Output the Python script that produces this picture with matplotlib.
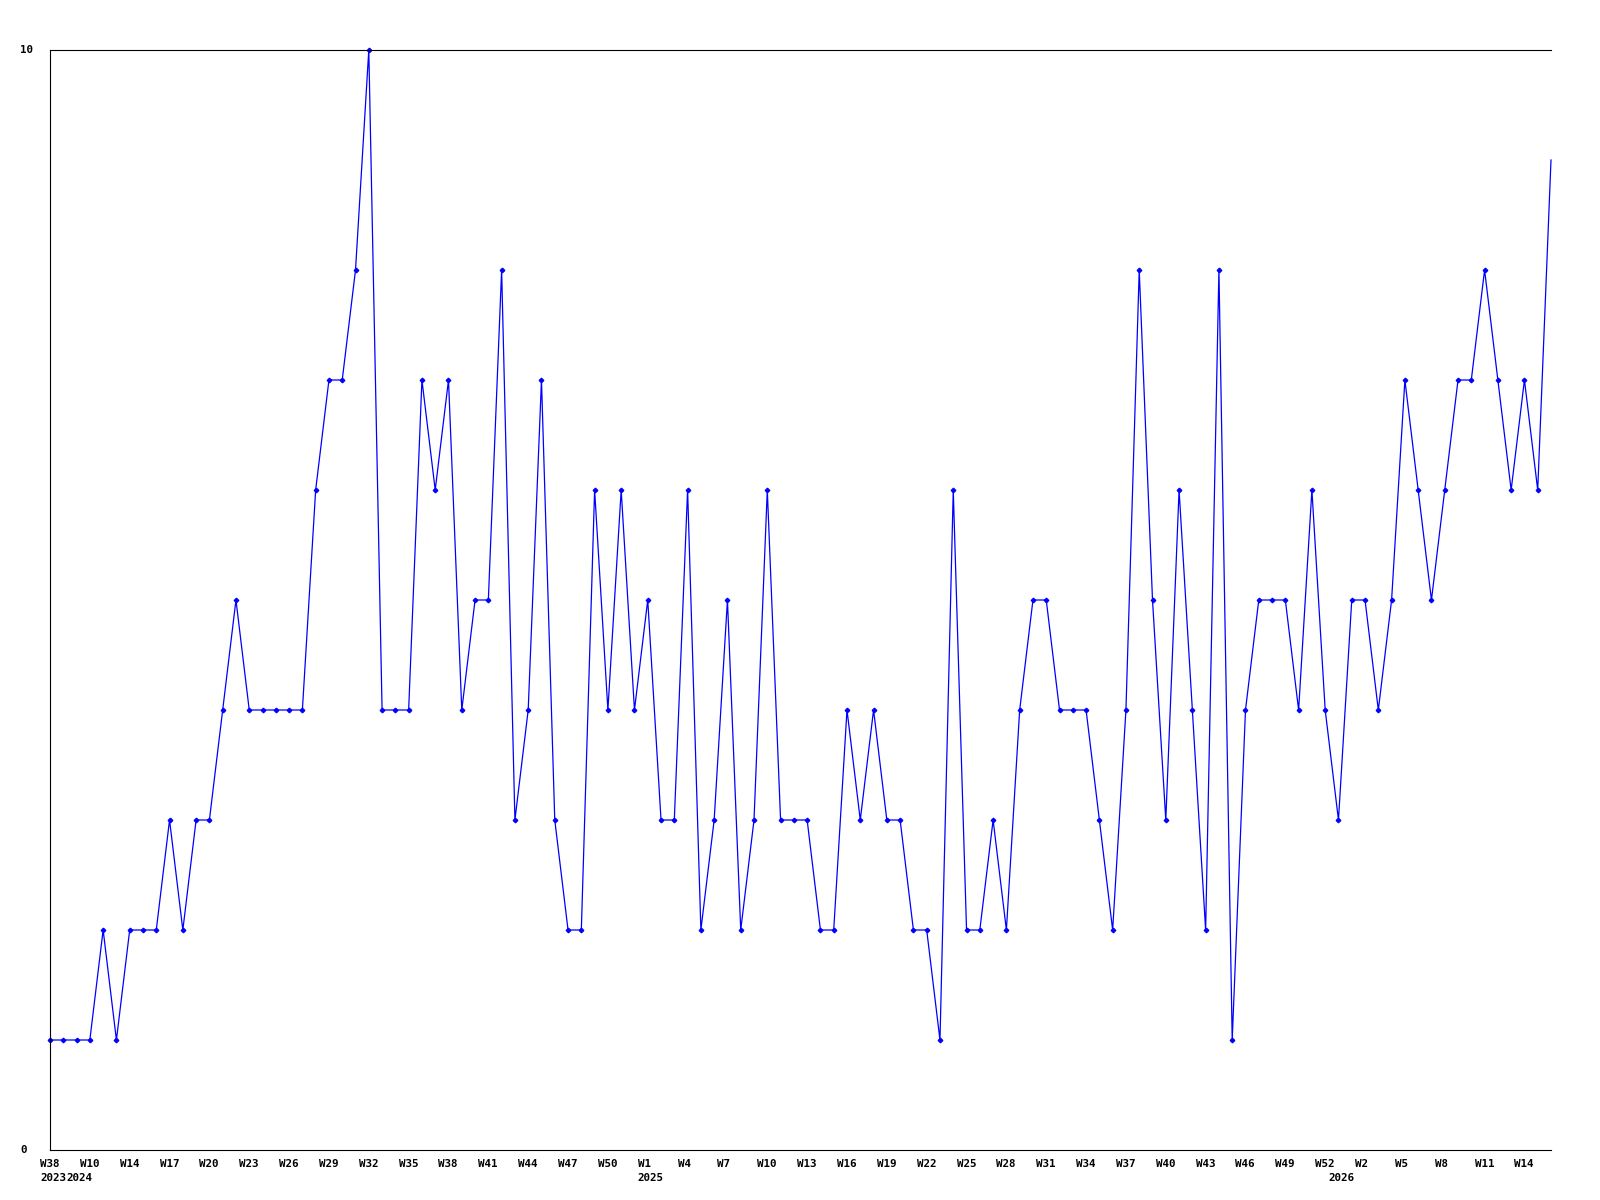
# Weekly counts line chart (W38 2023 .. W16 2026)
import matplotlib
matplotlib.use("Agg")
import matplotlib.pyplot as plt
from matplotlib.transforms import ScaledTranslation

# --- data ---
values = [1, 1, 1, 1, 2, 1, 2, 2, 2, 3,
          2, 3, 3, 4, 5, 4, 4, 4, 4, 4,
          6, 7, 7, 8, 10, 4, 4, 4, 7, 6,
          7, 4, 5, 5, 8, 3, 4, 7, 3, 2,
          2, 6, 4, 6, 4, 5, 3, 3, 6, 2,
          3, 5, 2, 3, 6, 3, 3, 3, 2, 2,
          4, 3, 4, 3, 3, 2, 2, 1, 6, 2,
          2, 3, 2, 4, 5, 5, 4, 4, 4, 3,
          2, 4, 8, 5, 3, 6, 4, 2, 8, 1,
          4, 5, 5, 5, 4, 6, 4, 3, 5, 5,
          4, 5, 7, 6, 5, 6, 7, 7, 8, 7,
          6, 7, 6, 9]

# week labels, one every third point
tick_labels = ["W38", "W10", "W14", "W17", "W20", "W23", "W26", "W29", "W32",
               "W35", "W38", "W41", "W44", "W47", "W50", "W1", "W4", "W7",
               "W10", "W13", "W16", "W19", "W22", "W25", "W28", "W31", "W34",
               "W37", "W40", "W43", "W46", "W49", "W52", "W2", "W5", "W8",
               "W11", "W14"]
tick_step = 3

# year labels sit under the first point of each year
year_labels = ["2023", "2024", "2025", "2026"]
year_index = [0, 2, 45, 97]

y_labels = ["0", "10"]
y_ticks = [0, 10]

# --- figure ---
plt.rcParams['font.family'] = ['DejaVu Sans Mono']
plt.rcParams['font.weight'] = 'bold'
plt.rcParams['font.size'] = 7.8

fig = plt.figure(figsize=(16, 12), dpi=100)
ax = fig.add_axes([50 / 1600, 1 - 1150 / 1200, 1501 / 1600, 1100 / 1200])

x = list(range(len(values)))
# the last point is drawn without a marker, like the original
ax.plot(x, values, color="#0000ff", linewidth=0.9, marker="D",
        markersize=2.3, markerfacecolor="#0000ff", markeredgecolor="#0000ff",
        markevery=list(range(len(values) - 1)), clip_on=False)

ax.set_xlim(0, len(values) - 1)
ax.set_ylim(0, 10)

for side in ["left", "bottom", "top"]:
    ax.spines[side].set_color("black")
    ax.spines[side].set_linewidth(0.8)
ax.spines["right"].set_visible(False)

ax.set_xticks([])
ax.set_yticks([])

# x labels: left edge ~10px before the point
shift = ScaledTranslation(-10 / 100, -9 / 100, fig.dpi_scale_trans)
for i, lab in enumerate(tick_labels):
    ax.text(i * tick_step, 0, lab, transform=ax.get_xaxis_transform() + shift,
            ha="left", va="top")

yshift = ScaledTranslation(-10 / 100, -23 / 100, fig.dpi_scale_trans)
for idx, yr in zip(year_index, year_labels):
    ax.text(idx, 0, yr, transform=ax.get_xaxis_transform() + yshift,
            ha="left", va="top")

# y labels, left-aligned near the figure edge
for v, lab in zip(y_ticks, y_labels):
    ax.text(-30 / 1501, v, lab, transform=ax.get_yaxis_transform(),
            ha="left", va="center")

fig.savefig("out.png", dpi=100, facecolor="white")
